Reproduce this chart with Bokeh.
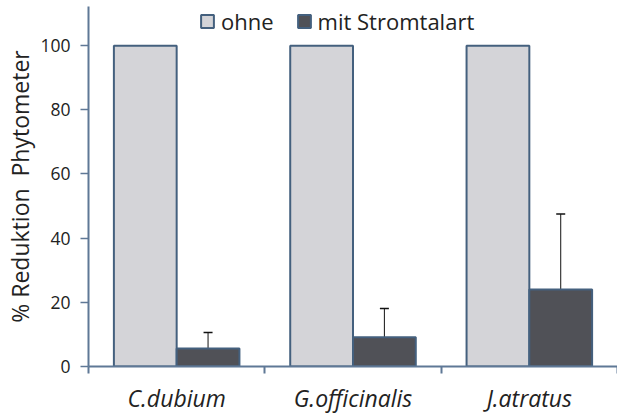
from bokeh.plotting import figure
from bokeh.models import (ColumnDataSource, Range1d, FixedTicker, Legend, LegendItem,
                          Whisker, TeeHead)
from bokeh.embed import file_html
from bokeh.resources import INLINE

species = ["C.dubium", "G.officinalis", "J.atratus"]
ohne = [100, 100, 100]
mit = [5.6, 9.1, 24.0]
mit_err = [5.0, 9.0, 23.5]

series_names = ["ohne", "mit Stromtalart"]

FONT = "Open Sans"
AXIS_COLOR = "#5f7896"
OUTLINE = "#44607e"
GREY = "#d4d4d8"
DARK = "#505157"
TEXT = "#222222"

centers = [i + 0.5 for i in range(len(species))]
off = 0.178
bw = 0.356

src_ohne = ColumnDataSource(dict(x=[c - off for c in centers], top=ohne))
src_mit = ColumnDataSource(dict(x=[c + off for c in centers], top=mit,
                                upper=[m + e for m, e in zip(mit, mit_err)]))

p = figure(width=617, height=416, output_backend="svg", toolbar_location=None,
           x_range=Range1d(0, 3.0), y_range=Range1d(0, 112.2),
           min_border_left=88, min_border_top=6, min_border_bottom=50, min_border_right=0)
p.outline_line_color = None
p.xgrid.grid_line_color = None
p.ygrid.grid_line_color = None

r1 = p.vbar(x="x", top="top", bottom=0, width=bw, source=src_ohne,
            fill_color=GREY, line_color=OUTLINE, line_width=2)
r2 = p.vbar(x="x", top="top", bottom=0, width=bw, source=src_mit,
            fill_color=DARK, line_color=OUTLINE, line_width=2)

wh = Whisker(base="x", lower="top", upper="upper", source=src_mit,
             line_color="#111111", line_width=1,
             upper_head=TeeHead(size=9, line_color="#111111", line_width=1.5),
             lower_head=None)
p.add_layout(wh)

# y axis
yax = p.yaxis[0]
yax.ticker = FixedTicker(ticks=[0, 20, 40, 60, 80, 100])
yax.axis_line_color = AXIS_COLOR
yax.axis_line_width = 2
yax.major_tick_line_color = AXIS_COLOR
yax.major_tick_line_width = 1.5
yax.major_tick_in = 0
yax.major_tick_out = 8
yax.minor_tick_line_color = None
yax.major_label_standoff = 10
yax.major_label_text_font = FONT
yax.major_label_text_font_size = "17.5px"
yax.major_label_text_color = TEXT
yax.axis_label = "% Reduktion\u00a0 Phytometer"
yax.axis_label_text_font = FONT
yax.axis_label_text_font_size = "23px"
yax.axis_label_text_font_style = "normal"
yax.axis_label_text_color = TEXT
yax.axis_label_standoff = 1

# x axis: boundary ticks (minor), category names at centers
xax = p.xaxis[0]
xax.ticker = FixedTicker(ticks=centers, minor_ticks=[0, 1, 2, 3])
xax.major_label_overrides = {c: s for c, s in zip(centers, species)}
xax.axis_line_color = AXIS_COLOR
xax.axis_line_width = 2
xax.major_tick_line_color = None
xax.major_tick_in = 0
xax.major_tick_out = 0
xax.minor_tick_line_color = AXIS_COLOR
xax.minor_tick_line_width = 2
xax.minor_tick_in = 0
xax.minor_tick_out = 7
xax.major_label_standoff = 8
xax.major_label_text_font = FONT
xax.major_label_text_font_size = "23px"
xax.major_label_text_font_style = "italic"
xax.major_label_text_color = TEXT

legend = Legend(items=[LegendItem(label=series_names[0], renderers=[r1]),
                       LegendItem(label=series_names[1], renderers=[r2])],
                orientation="horizontal", location=(111, 330),
                glyph_width=16, glyph_height=16, label_standoff=6, spacing=22,
                padding=0, margin=0, border_line_color=None, background_fill_alpha=0,
                label_text_font=FONT, label_text_font_size="22px", label_text_color=TEXT)
p.add_layout(legend)

open("out.html", "w").write(file_html(p, INLINE))
